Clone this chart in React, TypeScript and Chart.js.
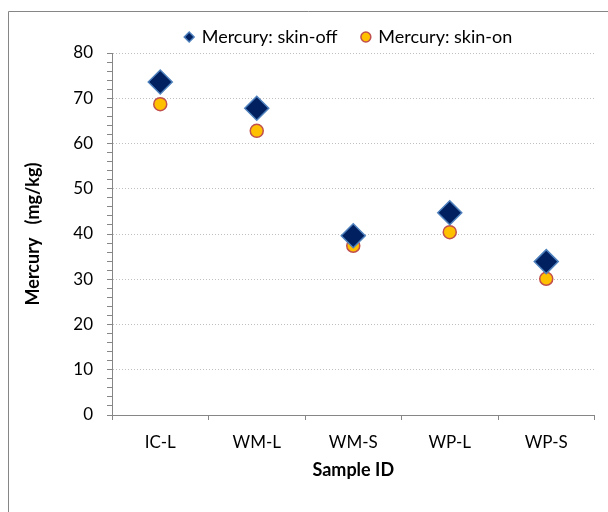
import React, { useEffect, useRef } from "react";
import { Chart, registerables } from "chart.js";

Chart.register(...registerables);

const categories = ["IC-L", "WM-L", "WM-S", "WP-L", "WP-S"];
const skinOff = [73.6, 67.8, 39.6, 44.7, 33.9];
const skinOn = [68.7, 62.8, 37.4, 40.4, 30.1];
const yMin = 0;
const yMax = 80;

const FONT = "Lato";
const AXIS_GRAY = "#868686";

const framePlugin = {
  id: "frame",
  beforeDraw(chart: any) {
    const ctx = chart.ctx;
    ctx.save();
    ctx.fillStyle = "#ffffff";
    ctx.fillRect(0, 0, chart.width, chart.height);
    ctx.strokeStyle = AXIS_GRAY;
    ctx.lineWidth = 1;
    ctx.beginPath();
    ctx.moveTo(8.5, chart.height + 2);
    ctx.lineTo(8.5, 11.5);
    ctx.lineTo(chart.width + 2, 11.5);
    ctx.stroke();
    ctx.restore();
  },
};

const legendShift = {
  id: "legendShift",
  afterLayout(chart: any) {
    const l = chart.legend;
    if (!l) return;
    l.left = 101;
    l.right = 597;
    l.width = l.right - l.left;
    l.top += 3;
    l.bottom += 3;
  },
};

export default function App() {
  const ref = useRef<HTMLCanvasElement | null>(null);
  useEffect(() => {
    document.body.style.margin = "0";
    const canvas = ref.current;
    if (!canvas) return;
    const chart = new Chart(canvas, {
      type: "line",
      data: {
        labels: categories,
        datasets: [
          {
            label: "Mercury: skin-off",
            data: skinOff,
            showLine: false,
            pointStyle: "rectRot",
            pointRadius: 12,
            pointHoverRadius: 12,
            backgroundColor: "#002060",
            borderColor: "#4F81BD",
            pointBorderWidth: 1.5,
            borderWidth: 1.5,
          },
          {
            label: "Mercury: skin-on",
            data: skinOn,
            showLine: false,
            pointStyle: "circle",
            pointRadius: 6.5,
            pointHoverRadius: 6.5,
            backgroundColor: "#FFC000",
            borderColor: "#C0504D",
            pointBorderWidth: 1.5,
            borderWidth: 1.5,
          },
        ],
      },
      plugins: [framePlugin, legendShift],
      options: {
        responsive: false,
        animation: false,
        layout: { padding: { left: 0, right: 11, top: 0, bottom: 0 } },
        plugins: {
          tooltip: { enabled: false },
          legend: {
            position: "top",
            labels: {
              usePointStyle: true,
              boxWidth: 7,
              boxHeight: 7,
              padding: 25,
              color: "#000000",
              font: { family: FONT, size: 18 },
            },
          },
        },
        scales: {
          x: {
            type: "category",
            offset: true,
            grid: {
              offset: true,
              display: true,
              color: "rgba(0,0,0,0)",
              tickColor: AXIS_GRAY,
              tickLength: 5,
              drawOnChartArea: false,
            },
            border: { display: true, color: AXIS_GRAY, width: 1 },
            ticks: {
              color: "#000000",
              padding: 12,
              font: { family: FONT, size: 17 },
              maxRotation: 0,
            },
            title: {
              display: true,
              text: "Sample ID",
              color: "#000000",
              font: { family: FONT, size: 18, weight: "bold" },
              padding: { top: 31, bottom: 31 },
            },
            afterFit(scale: any) {
              scale.height = 97;
            },
          },
          y: {
            type: "linear",
            min: yMin,
            max: yMax,
            grid: {
              color: (ctx: any) => {
                const v = ctx.tick ? ctx.tick.value : 0;
                return v > 0 && v % 10 === 0 ? "#BFBFBF" : "rgba(0,0,0,0)";
              },
              tickColor: AXIS_GRAY,
              tickLength: 5,
              lineWidth: 1,
            },
            border: { display: true, color: AXIS_GRAY, width: 1, dash: [1, 2] },
            ticks: {
              stepSize: 2,
              autoSkip: false,
              color: "#000000",
              padding: 14,
              font: { family: FONT, size: 17 },
              callback: (v: any) => (Number(v) % 10 === 0 ? String(v) : ""),
            },
            title: {
              display: true,
              text: "Mercury   (mg/kg)",
              color: "#000000",
              font: { family: FONT, size: 18, weight: "bold" },
              padding: { top: 22, bottom: 22 },
            },
            afterFit(scale: any) {
              scale.width = 112;
            },
          },
        },
      },
    });
    return () => chart.destroy();
  }, []);
  return (
    <div style={{ position: "absolute", left: 0, top: 0, width: 608, height: 512 }}>
      <canvas ref={ref} width={608} height={512} style={{ display: "block" }} />
    </div>
  );
}
